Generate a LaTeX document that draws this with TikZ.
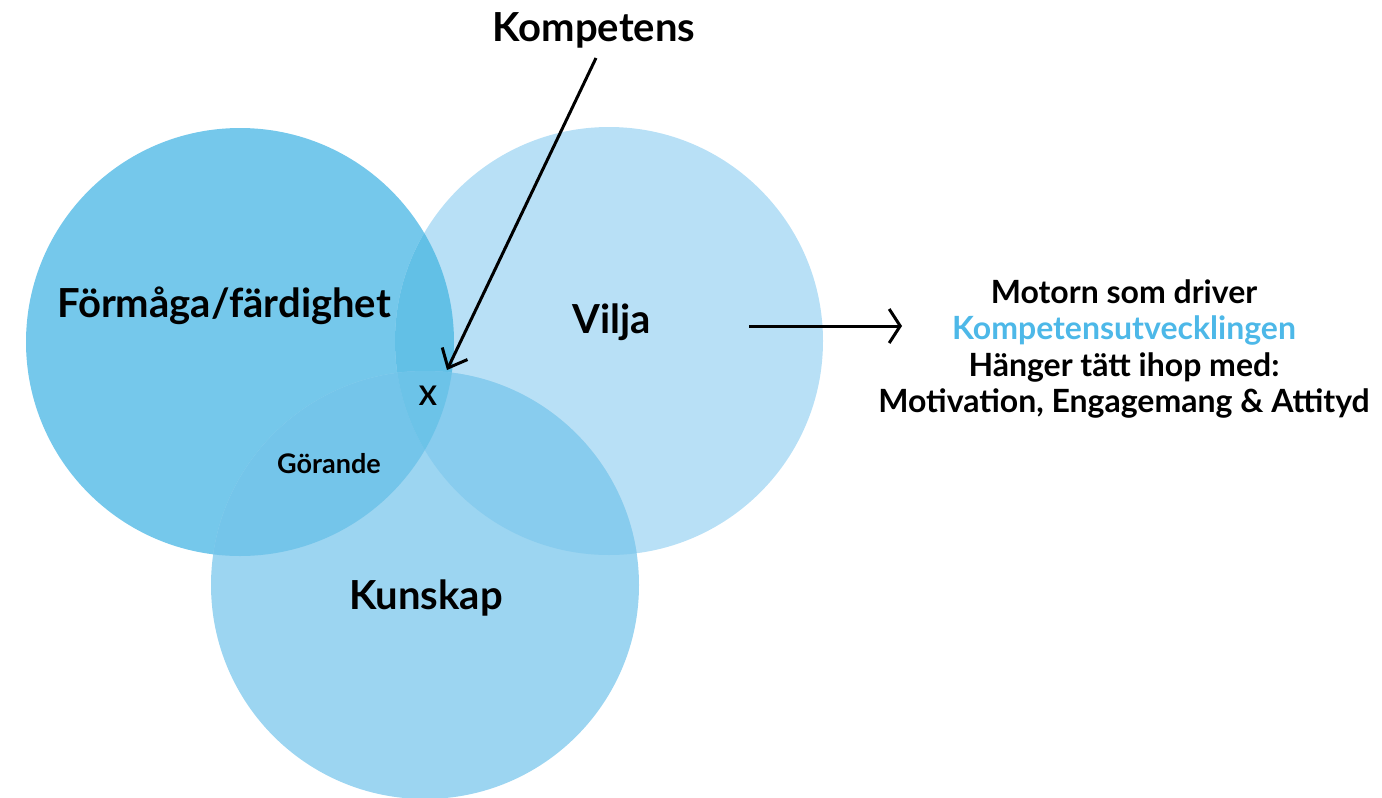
\documentclass[tikz,border=0pt]{standalone}
\usepackage{fontspec}
\setmainfont{Lato}
\usetikzlibrary{arrows.meta, positioning}

\definecolor{formcol}{HTML}{75C8EB}
\definecolor{viljacol}{HTML}{B8E0F6}
\definecolor{kunskcol}{HTML}{9CD5F1}
\definecolor{fvcol}{HTML}{62C0E6}
\definecolor{vkcol}{HTML}{88CCEE}
\definecolor{fkcol}{HTML}{74C5EA}
\definecolor{allcol}{HTML}{6CC3E8}
\definecolor{textblue}{HTML}{4DB8E8}

\tikzset{
  biglabel/.style={font=\fontsize{40}{46}\selectfont\bfseries},
  smalllabel/.style={font=\fontsize{27}{30}\selectfont\bfseries},
  sidetext/.style={font=\fontsize{32}{36.5}\selectfont\bfseries, align=center},
  pil/.style={line width=3pt}
}

\begin{document}
\begin{tikzpicture}[x=1pt, y=-1pt]
\useasboundingbox (0,0) rectangle (1382,798);

% circles
\fill[formcol] (240,342) circle (214);
\fill[viljacol] (609,341) circle (214);
\fill[kunskcol] (425,585) circle (214);

% overlaps
\begin{scope}
  \clip (240,342) circle (214);
  \fill[fvcol] (609,341) circle (214);
  \fill[fkcol] (425,585) circle (214);
\end{scope}
\begin{scope}
  \clip (609,341) circle (214);
  \fill[vkcol] (425,585) circle (214);
\end{scope}
\begin{scope}
  \clip (240,342) circle (214);
  \clip (609,341) circle (214);
  \fill[allcol] (425,585) circle (214);
\end{scope}

% labels
\node[biglabel] (kompetens) at (594,30) {Kompetens};
\node[biglabel] (formaga) at (224,306) {Förmåga/färdighet};
\node[biglabel] (vilja) at (612,322) {Vilja};
\node[biglabel] (kunskap) at (426,598) {Kunskap};
\node[smalllabel] (gorande) at (329,464) {Görande};
\node[smalllabel] (kryss) at (428,396) {X};

\node[sidetext] (motor) at (1124,349) {Motorn som driver\\
  \textcolor{textblue}{Kompetensutvecklingen}\\
  Hänger tätt ihop med:\\
  Motivation, Engagemang \& Attityd};

% arrows
\coordinate (kstart) at (596,58);
\coordinate (kend) at (447,370);
\coordinate (vstart) at (749,326);
\coordinate (vend) at (902,326);
\draw[pil, -{Straight Barb[length=16pt, width=28pt]}] (kstart) -- (kend);
\draw[pil, -{Straight Barb[length=11pt, width=34pt]}] (vstart) -- (vend);
\end{tikzpicture}
\end{document}
